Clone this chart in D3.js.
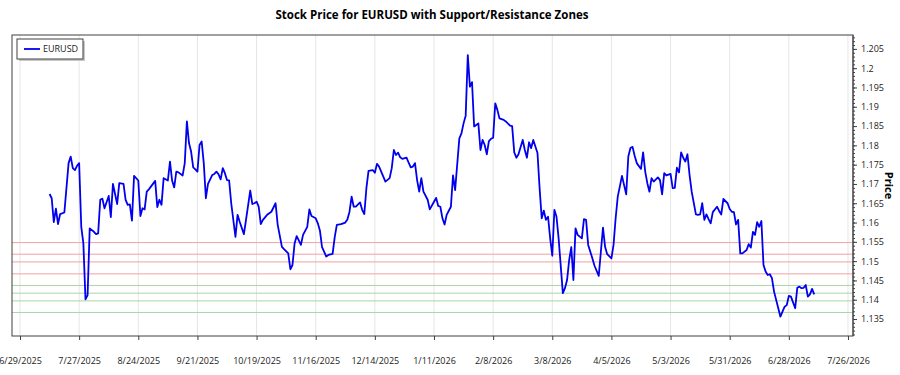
<!DOCTYPE html>
<html>
<head>
<meta charset="utf-8">
<script src="https://cdn.jsdelivr.net/npm/d3@7"></script>
<style>
  body { margin: 0; background: #fff; font-family: "Open Sans", sans-serif; }
</style>
</head>
<body>
<div id="chart-area"></div>
<script>
var dates = [
  "2025-07-13","2025-07-14","2025-07-15","2025-07-16","2025-07-17","2025-07-18","2025-07-20","2025-07-22","2025-07-23","2025-07-24",
  "2025-07-25","2025-07-26","2025-07-27","2025-07-28","2025-07-29","2025-07-30","2025-07-31","2025-08-01","2025-08-03","2025-08-04",
  "2025-08-05","2025-08-06","2025-08-07","2025-08-08","2025-08-10","2025-08-11","2025-08-12","2025-08-14","2025-08-15","2025-08-17",
  "2025-08-18","2025-08-19","2025-08-20","2025-08-21","2025-08-22","2025-08-24","2025-08-25","2025-08-26","2025-08-27","2025-08-28",
  "2025-08-29","2025-09-01","2025-09-02","2025-09-03","2025-09-04","2025-09-05","2025-09-07","2025-09-08","2025-09-09","2025-09-10",
  "2025-09-11","2025-09-12","2025-09-14","2025-09-15","2025-09-16","2025-09-17","2025-09-18","2025-09-19","2025-09-20","2025-09-21",
  "2025-09-22","2025-09-23","2025-09-24","2025-09-25","2025-09-26","2025-09-28","2025-09-29","2025-09-30","2025-10-01","2025-10-02",
  "2025-10-03","2025-10-04","2025-10-05","2025-10-06","2025-10-07","2025-10-09","2025-10-10","2025-10-11","2025-10-13","2025-10-14",
  "2025-10-16","2025-10-17","2025-10-18","2025-10-19","2025-10-20","2025-10-21","2025-10-22","2025-10-24","2025-10-26","2025-10-28",
  "2025-10-29","2025-10-31","2025-11-01","2025-11-03","2025-11-04","2025-11-05","2025-11-06","2025-11-07","2025-11-09","2025-11-10",
  "2025-11-12","2025-11-13","2025-11-14","2025-11-16","2025-11-17","2025-11-18","2025-11-19","2025-11-21","2025-11-22","2025-11-24",
  "2025-11-25","2025-11-26","2025-11-28","2025-11-30","2025-12-01","2025-12-02","2025-12-03","2025-12-04","2025-12-05","2025-12-07",
  "2025-12-08","2025-12-09","2025-12-10","2025-12-11","2025-12-13","2025-12-14","2025-12-15","2025-12-16","2025-12-17","2025-12-19",
  "2025-12-21","2025-12-22","2025-12-23","2025-12-24","2025-12-25","2025-12-26","2025-12-27","2025-12-29","2025-12-30","2025-12-31",
  "2026-01-01","2026-01-02","2026-01-03","2026-01-04","2026-01-05","2026-01-06","2026-01-08","2026-01-09","2026-01-11","2026-01-12",
  "2026-01-13","2026-01-14","2026-01-15","2026-01-16","2026-01-17","2026-01-19","2026-01-20","2026-01-21","2026-01-23","2026-01-24",
  "2026-01-25","2026-01-26","2026-01-27","2026-01-28","2026-01-29","2026-01-30","2026-01-31","2026-02-01","2026-02-02","2026-02-03",
  "2026-02-04","2026-02-05","2026-02-06","2026-02-07","2026-02-08","2026-02-09","2026-02-10","2026-02-11","2026-02-13","2026-02-14",
  "2026-02-16","2026-02-17","2026-02-18","2026-02-19","2026-02-20","2026-02-22","2026-02-23","2026-02-24","2026-02-25","2026-02-26",
  "2026-02-27","2026-03-01","2026-03-02","2026-03-03","2026-03-04","2026-03-05","2026-03-06","2026-03-07","2026-03-08","2026-03-09",
  "2026-03-10","2026-03-11","2026-03-13","2026-03-14","2026-03-15","2026-03-16","2026-03-17","2026-03-18","2026-03-19","2026-03-20",
  "2026-03-22","2026-03-23","2026-03-24","2026-03-25","2026-03-27","2026-03-28","2026-03-30","2026-03-31","2026-04-01","2026-04-02",
  "2026-04-03","2026-04-05","2026-04-06","2026-04-07","2026-04-08","2026-04-10","2026-04-12","2026-04-13","2026-04-14","2026-04-15",
  "2026-04-16","2026-04-17","2026-04-19","2026-04-20","2026-04-21","2026-04-22","2026-04-23","2026-04-24","2026-04-25","2026-04-27",
  "2026-04-28","2026-04-29","2026-04-30","2026-05-01","2026-05-03","2026-05-04","2026-05-05","2026-05-06","2026-05-07","2026-05-08",
  "2026-05-09","2026-05-10","2026-05-11","2026-05-12","2026-05-13","2026-05-15","2026-05-16","2026-05-17","2026-05-18","2026-05-19",
  "2026-05-20","2026-05-21","2026-05-22","2026-05-23","2026-05-25","2026-05-26","2026-05-27","2026-05-28","2026-05-30","2026-05-31",
  "2026-06-01","2026-06-02","2026-06-03","2026-06-04","2026-06-05","2026-06-06","2026-06-08","2026-06-09","2026-06-10","2026-06-11",
  "2026-06-12","2026-06-13","2026-06-14","2026-06-15","2026-06-16","2026-06-17","2026-06-18","2026-06-19","2026-06-20","2026-06-21",
  "2026-06-23","2026-06-24","2026-06-25","2026-06-26","2026-06-27","2026-06-28","2026-06-29","2026-07-01","2026-07-02","2026-07-03",
  "2026-07-04","2026-07-05","2026-07-06","2026-07-07","2026-07-08","2026-07-09","2026-07-10"
];
var prices = [
  1.1674,1.1663,1.1601,1.1636,1.1596,1.1622,1.1626,1.1754,1.1771,1.1741,
  1.1736,1.1747,1.1754,1.1589,1.1546,1.1401,1.1412,1.1585,1.1576,1.1570,
  1.1572,1.1659,1.1662,1.1637,1.1669,1.1614,1.1700,1.1648,1.1702,1.1700,
  1.1659,1.1646,1.1647,1.1605,1.1721,1.1709,1.1617,1.1637,1.1634,1.1680,
  1.1686,1.1708,1.1640,1.1659,1.1646,1.1715,1.1709,1.1758,1.1709,1.1691,
  1.1732,1.1730,1.1722,1.1754,1.1862,1.1806,1.1784,1.1743,1.1738,1.1732,
  1.1801,1.1810,1.1754,1.1663,1.1700,1.1723,1.1726,1.1732,1.1725,1.1712,
  1.1741,1.1728,1.1710,1.1709,1.1650,1.1563,1.1620,1.1602,1.1570,1.1607,
  1.1683,1.1648,1.1650,1.1654,1.1641,1.1596,1.1607,1.1620,1.1628,1.1650,
  1.1594,1.1537,1.1531,1.1520,1.1479,1.1490,1.1546,1.1565,1.1542,1.1568,
  1.1589,1.1634,1.1617,1.1611,1.1598,1.1579,1.1536,1.1512,1.1516,1.1519,
  1.1562,1.1594,1.1596,1.1600,1.1608,1.1628,1.1667,1.1641,1.1641,1.1652,
  1.1633,1.1622,1.1689,1.1734,1.1736,1.1729,1.1752,1.1745,1.1732,1.1706,
  1.1715,1.1741,1.1788,1.1775,1.1781,1.1769,1.1765,1.1768,1.1755,1.1743,
  1.1745,1.1754,1.1710,1.1680,1.1715,1.1680,1.1659,1.1634,1.1654,1.1664,
  1.1643,1.1641,1.1611,1.1595,1.1620,1.1641,1.1722,1.1684,1.1818,1.1831,
  1.1857,1.1877,1.2034,1.1952,1.1964,1.1849,1.1853,1.1857,1.1788,1.1814,
  1.1801,1.1777,1.1811,1.1817,1.1820,1.1909,1.1892,1.1870,1.1866,1.1862,
  1.1851,1.1850,1.1782,1.1768,1.1777,1.1814,1.1788,1.1768,1.1808,1.1793,
  1.1814,1.1780,1.1689,1.1611,1.1631,1.1607,1.1615,1.1559,1.1514,1.1633,
  1.1615,1.1559,1.1417,1.1430,1.1451,1.1503,1.1536,1.1451,1.1585,1.1568,
  1.1559,1.1609,1.1607,1.1542,1.1507,1.1488,1.1462,1.1524,1.1587,1.1537,
  1.1518,1.1507,1.1542,1.1611,1.1667,1.1721,1.1673,1.1771,1.1793,1.1796,
  1.1773,1.1754,1.1739,1.1782,1.1732,1.1702,1.1680,1.1715,1.1706,1.1717,
  1.1710,1.1673,1.1728,1.1722,1.1726,1.1689,1.1690,1.1742,1.1730,1.1782,
  1.1768,1.1758,1.1777,1.1723,1.1680,1.1621,1.1620,1.1621,1.1650,1.1607,
  1.1621,1.1609,1.1598,1.1627,1.1641,1.1630,1.1621,1.1661,1.1650,1.1635,
  1.1628,1.1627,1.1595,1.1607,1.1520,1.1520,1.1529,1.1544,1.1535,1.1576,
  1.1568,1.1601,1.1589,1.1604,1.1490,1.1473,1.1464,1.1466,1.1456,1.1421,
  1.1378,1.1356,1.1369,1.1382,1.1386,1.1410,1.1408,1.1378,1.1431,1.1434,
  1.1430,1.1431,1.1438,1.1408,1.1414,1.1428,1.1414
];
var resistanceLevels = [1.1548, 1.1518, 1.1498, 1.1467];
var supportLevels = [1.1437, 1.1417, 1.1397, 1.1367];
var xTickDates = ["2025-06-29","2025-07-27","2025-08-24","2025-09-21","2025-10-19","2025-11-16","2025-12-14",
  "2026-01-11","2026-02-08","2026-03-08","2026-04-05","2026-05-03","2026-05-31","2026-06-28","2026-07-26"];
var yTicks = [1.135, 1.14, 1.145, 1.15, 1.155, 1.16, 1.165, 1.17, 1.175, 1.18, 1.185, 1.19, 1.195, 1.2, 1.205];

var margin = { top: 35, right: 47, bottom: 39, left: 12 },
    width = 900 - margin.left - margin.right,
    height = 375 - margin.top - margin.bottom;

var parseDate = d3.timeParse("%Y-%m-%d");
var data = dates.map((d, i) => ({ date: parseDate(d), price: prices[i] }));
var tickDates = xTickDates.map(parseDate);

var svgRoot = d3.select("#chart-area")
    .append("svg")
    .attr("width", 900)
    .attr("height", 375)
    .style("display", "block");

var svg = svgRoot.append("g")
    .attr("transform", `translate(${margin.left},${margin.top})`);

// Scales
var x = d3.scaleTime()
    .domain([d3.timeHour.offset(tickDates[0], -91), d3.timeHour.offset(tickDates[tickDates.length - 1], 57)])
    .range([0, width]);
var y = d3.scaleLinear().domain([1.1306, 1.2086]).range([height, 0]);

// Vertical grid
svg.append("g").selectAll("line")
    .data(tickDates)
    .enter().append("line")
    .attr("x1", d => x(d)).attr("x2", d => x(d))
    .attr("y1", 0).attr("y2", height)
    .attr("stroke", "#e6e6e6").attr("stroke-width", 1);

// Support / resistance zones
svg.append("g").selectAll("line")
    .data(resistanceLevels)
    .enter().append("line")
    .attr("x1", 0).attr("x2", width)
    .attr("y1", d => y(d)).attr("y2", d => y(d))
    .attr("stroke", "#f2a0a0").attr("stroke-width", 1);

svg.append("g").selectAll("line")
    .data(supportLevels)
    .enter().append("line")
    .attr("x1", 0).attr("x2", width)
    .attr("y1", d => y(d)).attr("y2", d => y(d))
    .attr("stroke", "#a6d6a6").attr("stroke-width", 1);

// Price line
var line = d3.line().x(d => x(d.date)).y(d => y(d.price));
svg.append("path")
    .datum(data)
    .attr("fill", "none")
    .attr("stroke", "#0000ee")
    .attr("stroke-width", 1.8)
    .attr("stroke-linejoin", "round")
    .attr("d", line);

// Plot border
svg.append("rect")
    .attr("x", 0).attr("y", 0)
    .attr("width", width).attr("height", height)
    .attr("fill", "none")
    .attr("stroke", "#404040").attr("stroke-width", 1);

// Axes
var xAxis = d3.axisBottom(x)
    .tickValues(tickDates)
    .tickFormat(d3.timeFormat("%-m/%-d/%Y"))
    .tickSize(4)
    .tickPadding(18);
var gx = svg.append("g").attr("transform", `translate(0,${height})`).call(xAxis);

var yMinor = d3.axisRight(y).tickValues(d3.range(1131, 1209).map(d => d / 1000)).tickSize(2).tickFormat("");
svg.append("g").attr("transform", `translate(${width},0)`).call(yMinor);

var yAxis = d3.axisRight(y)
    .tickValues(yTicks)
    .tickFormat(d => String(+d.toFixed(3)))
    .tickSize(4)
    .tickPadding(4);
var gy = svg.append("g").attr("transform", `translate(${width},0)`).call(yAxis);

svgRoot.selectAll(".domain").remove();
svgRoot.selectAll(".tick line").attr("stroke", "#404040");
svgRoot.selectAll(".tick text")
    .attr("fill", "#222")
    .style("font-family", "'Open Sans', sans-serif")
    .style("font-size", "9px");

svg.append("line")
    .attr("x1", width).attr("x2", width)
    .attr("y1", 0).attr("y2", height)
    .attr("stroke", "#404040");

// Title
svgRoot.append("text")
    .attr("x", 432).attr("y", 19)
    .attr("text-anchor", "middle")
    .style("font-family", "'Open Sans', sans-serif")
    .style("font-weight", "bold")
    .style("font-size", "11.5px")
    .text("Stock Price for EURUSD with Support/Resistance Zones");

// Y label
svgRoot.append("text")
    .attr("transform", `translate(885,${margin.top + height / 2}) rotate(90)`)
    .attr("text-anchor", "middle")
    .style("font-family", "'Open Sans', sans-serif")
    .style("font-weight", "bold")
    .style("font-size", "11px")
    .text("Price");

// Legend
var legend = svgRoot.append("g").attr("transform", "translate(17,39)");
legend.append("rect")
    .attr("x", 2).attr("y", 2).attr("width", 66).attr("height", 20)
    .attr("fill", "#c8c8c8");
legend.append("rect")
    .attr("width", 66).attr("height", 20)
    .attr("fill", "#fff").attr("stroke", "#404040").attr("stroke-width", 1);
legend.append("line")
    .attr("x1", 7).attr("x2", 23).attr("y1", 10).attr("y2", 10)
    .attr("stroke", "#0000ee").attr("stroke-width", 1.8);
legend.append("text")
    .attr("x", 26).attr("y", 13)
    .style("font-family", "'Open Sans', sans-serif")
    .style("font-size", "9px")
    .attr("fill", "#222")
    .text("EURUSD");
</script>
</body>
</html>
